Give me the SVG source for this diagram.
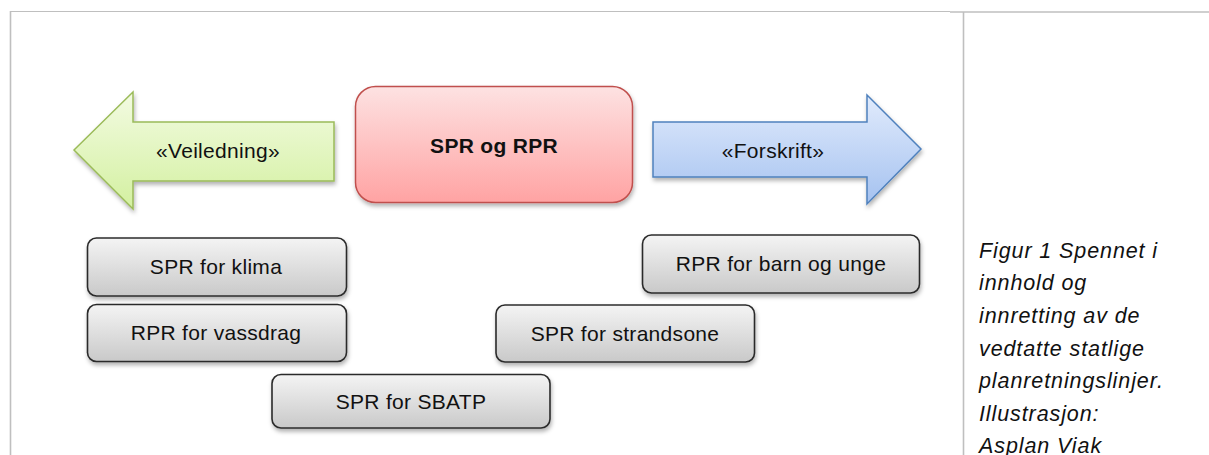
<svg xmlns="http://www.w3.org/2000/svg" width="1209" height="455" viewBox="0 0 1209 455">
<defs>
<linearGradient id="gGray" x1="0" y1="0" x2="0" y2="1"><stop offset="0" stop-color="#f4f4f4"/><stop offset="1" stop-color="#c9c9c9"/></linearGradient>
<linearGradient id="gRed" x1="0" y1="0" x2="0" y2="1"><stop offset="0" stop-color="#fde2e2"/><stop offset="1" stop-color="#ffa3a3"/></linearGradient>
<linearGradient id="gGreen" x1="0" y1="0" x2="0" y2="1"><stop offset="0" stop-color="#f3fbe2"/><stop offset="1" stop-color="#d3f0a0"/></linearGradient>
<linearGradient id="gBlue" x1="0" y1="0" x2="0" y2="1"><stop offset="0" stop-color="#e1ebfc"/><stop offset="1" stop-color="#a5c2f0"/></linearGradient>
<filter id="sh" x="-10%" y="-10%" width="130%" height="140%"><feDropShadow dx="1" dy="3" stdDeviation="2" flood-color="#000" flood-opacity="0.3"/></filter>
</defs>
<style>
.box{fill:url(#gGray);stroke:#2b2b2b;stroke-width:1.6;filter:url(#sh)}
.lbl{font-family:"Liberation Sans",Arial,sans-serif;font-size:21px;letter-spacing:0.3px;fill:#111;text-anchor:middle}
.cap{font-family:"Liberation Sans",Arial,sans-serif;font-size:21.5px;letter-spacing:0.9px;font-style:italic;fill:#111}
.rule{stroke:#bfbfbf;fill:none}
</style>
<rect width="1209" height="455" fill="#ffffff"/>
<g id="table">
<line class="rule" x1="10" y1="11.5" x2="950" y2="11.5" stroke-width="1"/>
<line class="rule" x1="950" y1="12" x2="1209" y2="12" stroke-width="1.5"/>
<line class="rule" x1="10.5" y1="11" x2="10.5" y2="455" stroke-width="1.6"/>
<line class="rule" x1="963.5" y1="12" x2="963.5" y2="455" stroke-width="1.6"/>
</g>
<g id="veiledning">
<path d="M74,150 L133,92 L133,122 L334,122 L334,181 L133,181 L133,209 Z" fill="url(#gGreen)" stroke="#9bbb59" stroke-width="1.5" filter="url(#sh)"/>
<text class="lbl" x="218" y="158" font-size="24" letter-spacing="0.8">«Veiledning»</text>
</g>
<g id="spr-og-rpr">
<rect x="355.5" y="86.5" width="277" height="116" rx="20" fill="url(#gRed)" stroke="#c0504d" stroke-width="1.5" filter="url(#sh)"/>
<text class="lbl" x="494" y="153" font-size="25" font-weight="bold" letter-spacing="0.4">SPR og RPR</text>
</g>
<g id="forskrift">
<path d="M653,122 L867,122 L867,95 L921,149 L867,204 L867,177 L653,177 Z" fill="url(#gBlue)" stroke="#4f81bd" stroke-width="1.5" filter="url(#sh)"/>
<text class="lbl" x="773" y="158" font-size="24" letter-spacing="0.8">«Forskrift»</text>
</g>
<g id="spr-klima">
<rect class="box" x="87.5" y="238" width="259" height="58" rx="9"/>
<text class="lbl" x="216" y="274">SPR for klima</text>
</g>
<g id="rpr-vassdrag">
<rect class="box" x="87.5" y="304.5" width="259" height="57" rx="9"/>
<text class="lbl" x="216" y="340">RPR for vassdrag</text>
</g>
<g id="spr-sbatp">
<rect class="box" x="272" y="374.5" width="278" height="53.5" rx="9"/>
<text class="lbl" x="411" y="409">SPR for SBATP</text>
</g>
<g id="rpr-barn">
<rect class="box" x="642.5" y="235" width="277" height="58" rx="9"/>
<text class="lbl" x="781" y="271">RPR for barn og unge</text>
</g>
<g id="spr-strandsone">
<rect class="box" x="496" y="305" width="258.5" height="57" rx="9"/>
<text class="lbl" x="625" y="341">SPR for strandsone</text>
</g>
<g id="caption">
<text class="cap" x="979" y="258">Figur 1 Spennet i</text>
<text class="cap" x="979" y="290">innhold og</text>
<text class="cap" x="979" y="323">innretting av de</text>
<text class="cap" x="979" y="356">vedtatte statlige</text>
<text class="cap" x="979" y="388">planretningslinjer.</text>
<text class="cap" x="979" y="421">Illustrasjon:</text>
<text class="cap" x="979" y="453">Asplan Viak</text>
</g>
</svg>
